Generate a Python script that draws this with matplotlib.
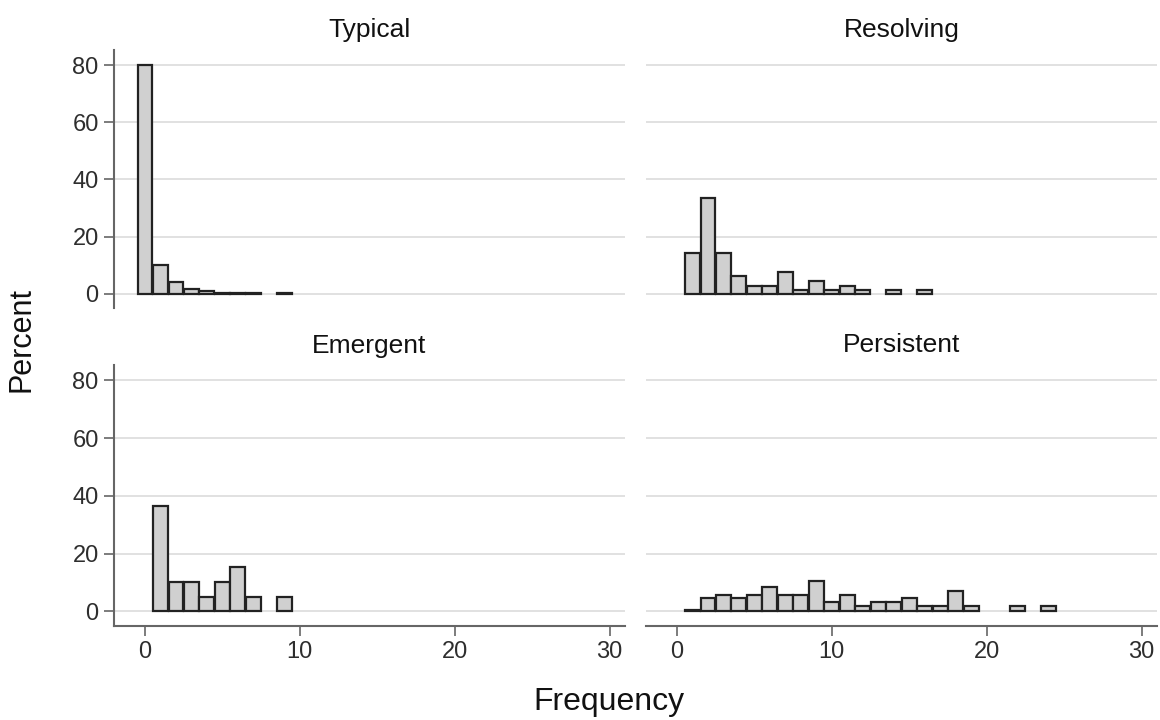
import matplotlib
matplotlib.use("Agg")
import matplotlib.pyplot as plt
import numpy as np

plt.rcParams['font.family'] = ['Liberation Sans', 'DejaVu Sans']

# ---- data (percent per integer frequency bin) ----
typical_x = [0, 1, 2, 3, 4, 5, 6, 7, 8, 9]
typical_pct = [80.2, 10.2, 4.2, 1.7, 1.1, 0.3, 0.2, 0.2, 0.0, 0.3]

resolving_x = [1, 2, 3, 4, 5, 6, 7, 8, 9, 10, 11, 12, 13, 14, 15, 16]
resolving_pct = [14.2, 33.6, 14.2, 6.1, 2.6, 2.6, 7.5, 1.2, 4.6, 1.2, 2.7, 1.2,
                 0.0, 1.2, 0.0, 1.2]

emergent_x = [1, 2, 3, 4, 5, 6, 7, 8, 9]
emergent_pct = [36.5, 10.3, 10.3, 4.9, 10.3, 15.5, 4.9, 0.0, 4.9]

persistent_x = [1, 2, 3, 4, 5, 6, 7, 8, 9, 10, 11, 12, 13, 14, 15, 16, 17, 18,
                19, 20, 21, 22, 23, 24]
persistent_pct = [0.3, 4.5, 5.8, 4.5, 5.8, 8.3, 5.8, 5.8, 10.6, 3.1, 5.8, 1.7,
                  3.1, 3.1, 4.5, 1.7, 1.7, 6.9, 1.7, 0.0, 0.0, 1.7, 0.0, 1.7]

titles = ["Typical", "Resolving", "Emergent", "Persistent"]
xs = [typical_x, resolving_x, emergent_x, persistent_x]
ys = [typical_pct, resolving_pct, emergent_pct, persistent_pct]
yticks = [0, 20, 40, 60, 80]
xticks = [0, 10, 20, 30]

W, H = 1160, 720
fig = plt.figure(figsize=(W / 100, H / 100), dpi=100)

def rect(l, t, r, b):
    return [l / W, 1 - b / H, (r - l) / W, (b - t) / H]

boxes = [rect(114, 50, 625, 308), rect(646, 50, 1157, 308),
         rect(114, 365, 625, 625.7), rect(646, 365, 1157, 625.7)]

axis_col = "#666666"
text_col = "#2e2e2e"
for i, (box, title, x, y) in enumerate(zip(boxes, titles, xs, ys)):
    ax = fig.add_axes(box)
    ax.set_xlim(-2, 31)
    ax.set_ylim(-5, 85.3)
    for s in ax.spines.values():
        s.set_visible(False)
    ax.set_yticks(yticks)
    ax.yaxis.grid(True, color="#d9d9d9", lw=1.1)
    ax.set_axisbelow(True)
    x = np.array(x)
    y = np.array(y)
    m = y > 0
    ax.bar(x[m], y[m], width=0.96, color="#d0d0d0", edgecolor="#222222",
           linewidth=1.6, zorder=3)
    ax.set_title(title, fontsize=19, color="#111111", pad=9)
    left = i in (0, 2)
    bottom = i in (2, 3)
    if left:
        ax.spines['left'].set_visible(True)
        ax.spines['left'].set_color(axis_col)
        ax.spines['left'].set_linewidth(1.5)
        ax.tick_params(axis='y', length=7, width=1.2, color=axis_col,
                       labelsize=17, labelcolor=text_col, pad=4)
    else:
        ax.tick_params(axis='y', length=0, labelleft=False)
    if bottom:
        ax.spines['bottom'].set_visible(True)
        ax.spines['bottom'].set_color(axis_col)
        ax.spines['bottom'].set_linewidth(1.5)
        ax.set_xticks(xticks)
        ax.tick_params(axis='x', length=7, width=1.2, color=axis_col,
                       labelsize=17, labelcolor=text_col, pad=4)
    else:
        ax.set_xticks([])

fig.text(609 / W, 1 - 702 / H, "Frequency", fontsize=23, color="#111111",
         ha="center", va="center")
fig.text(22 / W, 1 - 340 / H, "Percent", fontsize=22, color="#111111",
         ha="center", va="center", rotation=90)

fig.savefig("out.png", dpi=100)
